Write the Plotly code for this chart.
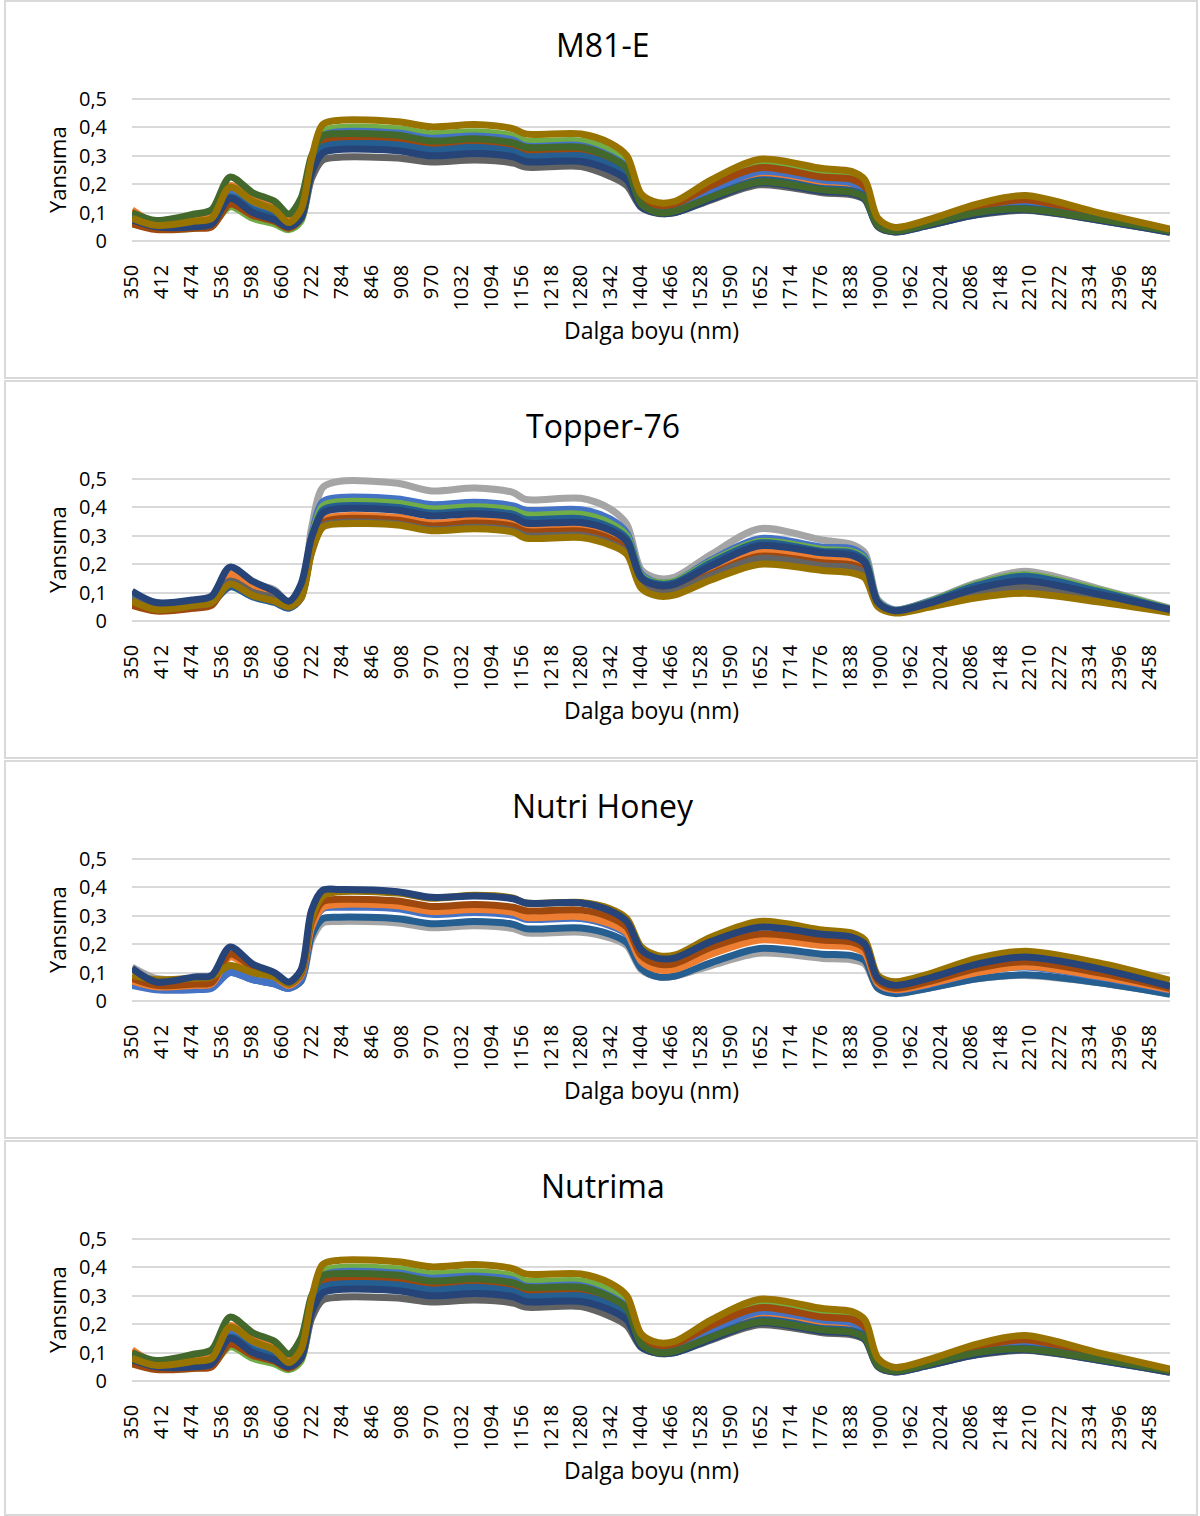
import plotly.graph_objects as go

# ---------------- data ----------------
wavelengths = [350, 400, 480, 515, 553, 600, 645, 675, 700, 722, 745, 780, 900, 970, 1060,
               1140, 1165, 1280, 1340, 1375, 1405, 1440, 1475, 1550, 1650, 1780, 1840, 1868,
               1895, 1930, 2000, 2100, 2200, 2350, 2500]
x_ticks = list(range(350, 2459, 62))
y_ticks = [0, 0.1, 0.2, 0.3, 0.4, 0.5]
y_ticktext = ["0", "0,1", "0,2", "0,3", "0,4", "0,5"]
titles = ["M81-E", "Topper-76", "Nutri Honey", "Nutrima"]

# M81-E
m81_white = [0.08,0.05,0.05,0.06,0.14,0.10,0.08,0.05,0.085,0.24,0.32,0.332,0.328,0.31,0.318,0.305,0.288,0.29,0.258,0.22,0.12,0.098,0.1,0.15,0.21,0.18,0.173,0.152,0.054,0.033,0.056,0.095,0.112,0.076,0.032]
m81_dgray = [0.07,0.045,0.05,0.055,0.14,0.095,0.07,0.045,0.075,0.22,0.285,0.295,0.292,0.278,0.285,0.274,0.26,0.262,0.228,0.195,0.118,0.097,0.1,0.145,0.198,0.17,0.163,0.145,0.05,0.032,0.055,0.092,0.108,0.074,0.031]
m81_lgreen = [0.07,0.045,0.045,0.055,0.12,0.08,0.06,0.04,0.07,0.26,0.385,0.40,0.395,0.378,0.385,0.37,0.352,0.352,0.32,0.275,0.14,0.11,0.115,0.19,0.27,0.235,0.225,0.195,0.065,0.04,0.065,0.11,0.125,0.085,0.035]
m81_orange = [0.11,0.065,0.09,0.095,0.195,0.15,0.125,0.075,0.10,0.27,0.34,0.352,0.348,0.332,0.34,0.326,0.31,0.31,0.28,0.24,0.125,0.10,0.105,0.16,0.225,0.195,0.188,0.165,0.058,0.036,0.06,0.1,0.118,0.08,0.034]
m81_blue = [0.08,0.05,0.055,0.065,0.17,0.12,0.09,0.055,0.09,0.27,0.37,0.385,0.38,0.362,0.37,0.355,0.335,0.336,0.30,0.26,0.135,0.105,0.11,0.175,0.245,0.215,0.205,0.18,0.06,0.037,0.062,0.105,0.125,0.082,0.034]
m81_brown = [0.06,0.04,0.045,0.05,0.13,0.09,0.07,0.045,0.08,0.26,0.35,0.362,0.358,0.342,0.35,0.336,0.32,0.322,0.29,0.255,0.15,0.125,0.13,0.195,0.258,0.225,0.218,0.19,0.07,0.042,0.07,0.12,0.145,0.09,0.038]
m81_steel = [0.085,0.055,0.055,0.065,0.155,0.11,0.085,0.055,0.09,0.25,0.33,0.342,0.338,0.32,0.33,0.315,0.298,0.3,0.268,0.23,0.125,0.10,0.105,0.155,0.215,0.185,0.178,0.158,0.056,0.034,0.058,0.098,0.115,0.078,0.033]
m81_dblue = [0.075,0.05,0.05,0.06,0.15,0.10,0.075,0.05,0.08,0.24,0.31,0.322,0.318,0.30,0.308,0.296,0.28,0.28,0.25,0.215,0.12,0.098,0.1,0.148,0.205,0.175,0.168,0.148,0.052,0.032,0.055,0.093,0.11,0.074,0.031]
m81_dgreen = [0.1,0.072,0.095,0.11,0.225,0.17,0.14,0.095,0.15,0.30,0.37,0.378,0.372,0.352,0.36,0.345,0.33,0.33,0.295,0.255,0.13,0.10,0.105,0.155,0.208,0.18,0.172,0.152,0.055,0.035,0.06,0.10,0.113,0.078,0.035]
m81_gold = [0.08,0.055,0.07,0.08,0.19,0.14,0.11,0.065,0.11,0.29,0.41,0.425,0.42,0.402,0.41,0.395,0.377,0.377,0.345,0.30,0.165,0.135,0.14,0.215,0.288,0.255,0.245,0.215,0.08,0.048,0.075,0.13,0.16,0.10,0.042]

# Topper-76
top_white = [0.07,0.045,0.05,0.06,0.13,0.095,0.075,0.05,0.085,0.26,0.36,0.372,0.367,0.347,0.356,0.344,0.33,0.332,0.3,0.26,0.14,0.118,0.122,0.18,0.24,0.215,0.208,0.185,0.06,0.034,0.06,0.11,0.135,0.09,0.037]
top_lgray = [0.09,0.06,0.065,0.075,0.15,0.13,0.11,0.065,0.10,0.33,0.47,0.492,0.485,0.458,0.468,0.452,0.428,0.432,0.395,0.34,0.18,0.15,0.155,0.235,0.325,0.285,0.27,0.24,0.075,0.04,0.07,0.135,0.175,0.115,0.045]
top_blue = [0.085,0.055,0.06,0.07,0.13,0.095,0.075,0.05,0.085,0.30,0.42,0.435,0.43,0.41,0.418,0.405,0.39,0.392,0.36,0.31,0.165,0.135,0.14,0.215,0.29,0.26,0.255,0.225,0.07,0.038,0.068,0.13,0.162,0.108,0.042]
top_lgreen = [0.08,0.055,0.06,0.07,0.15,0.11,0.085,0.055,0.09,0.29,0.405,0.42,0.415,0.395,0.402,0.39,0.374,0.376,0.345,0.3,0.16,0.135,0.14,0.21,0.28,0.252,0.245,0.218,0.068,0.037,0.067,0.13,0.163,0.11,0.042]
top_steel = [0.08,0.05,0.055,0.065,0.12,0.085,0.065,0.045,0.08,0.28,0.39,0.405,0.4,0.38,0.388,0.375,0.358,0.36,0.33,0.29,0.155,0.13,0.135,0.205,0.275,0.245,0.24,0.212,0.066,0.036,0.065,0.125,0.158,0.105,0.04]
top_orange = [0.075,0.045,0.055,0.065,0.165,0.12,0.095,0.06,0.095,0.26,0.355,0.37,0.365,0.345,0.355,0.343,0.325,0.327,0.3,0.26,0.14,0.115,0.12,0.18,0.245,0.22,0.212,0.19,0.06,0.034,0.058,0.105,0.13,0.088,0.036]
top_brown = [0.055,0.035,0.045,0.055,0.14,0.1,0.08,0.05,0.085,0.25,0.345,0.36,0.355,0.335,0.345,0.333,0.315,0.317,0.29,0.25,0.13,0.105,0.11,0.165,0.228,0.205,0.198,0.178,0.058,0.033,0.056,0.1,0.125,0.085,0.035]
top_dgray = [0.075,0.045,0.055,0.065,0.14,0.1,0.08,0.05,0.085,0.245,0.335,0.347,0.342,0.322,0.33,0.318,0.3,0.302,0.275,0.24,0.125,0.1,0.105,0.16,0.22,0.195,0.188,0.168,0.055,0.032,0.055,0.097,0.118,0.08,0.034]
top_gold = [0.07,0.04,0.055,0.065,0.13,0.09,0.07,0.05,0.08,0.24,0.33,0.342,0.338,0.318,0.325,0.313,0.292,0.294,0.268,0.235,0.115,0.088,0.092,0.145,0.2,0.178,0.17,0.152,0.05,0.028,0.048,0.082,0.098,0.068,0.03]
top_dblue = [0.105,0.065,0.075,0.088,0.19,0.14,0.105,0.07,0.13,0.295,0.38,0.395,0.39,0.37,0.378,0.365,0.345,0.347,0.32,0.28,0.15,0.125,0.13,0.195,0.265,0.24,0.232,0.205,0.065,0.036,0.062,0.115,0.142,0.095,0.04]

# Nutri Honey
nh_white = [0.06,0.045,0.045,0.05,0.11,0.08,0.065,0.045,0.075,0.245,0.31,0.315,0.31,0.292,0.3,0.29,0.275,0.277,0.252,0.222,0.13,0.1,0.102,0.155,0.2,0.18,0.175,0.155,0.055,0.035,0.055,0.095,0.112,0.08,0.035]
nh_lgray = [0.12,0.08,0.075,0.075,0.11,0.08,0.065,0.05,0.07,0.215,0.275,0.28,0.275,0.258,0.265,0.255,0.24,0.242,0.222,0.195,0.11,0.085,0.088,0.125,0.168,0.15,0.145,0.13,0.045,0.028,0.045,0.078,0.09,0.065,0.025]
nh_steel = [0.065,0.045,0.045,0.05,0.10,0.075,0.06,0.045,0.07,0.23,0.29,0.295,0.29,0.272,0.28,0.27,0.255,0.257,0.235,0.205,0.115,0.085,0.088,0.135,0.185,0.165,0.16,0.142,0.045,0.026,0.045,0.078,0.092,0.065,0.024]
nh_blue = [0.055,0.04,0.04,0.045,0.10,0.075,0.06,0.045,0.075,0.26,0.325,0.33,0.325,0.305,0.312,0.302,0.288,0.29,0.265,0.235,0.14,0.112,0.115,0.172,0.225,0.2,0.195,0.172,0.06,0.038,0.058,0.1,0.12,0.085,0.038]
nh_orange = [0.07,0.05,0.055,0.06,0.155,0.11,0.085,0.055,0.09,0.26,0.33,0.34,0.335,0.315,0.322,0.312,0.295,0.297,0.272,0.24,0.14,0.11,0.112,0.165,0.215,0.195,0.19,0.168,0.062,0.04,0.06,0.1,0.122,0.088,0.04]
nh_brown = [0.08,0.055,0.06,0.065,0.165,0.12,0.09,0.06,0.095,0.28,0.35,0.358,0.352,0.333,0.34,0.33,0.318,0.32,0.295,0.26,0.16,0.13,0.132,0.19,0.236,0.215,0.208,0.185,0.07,0.045,0.068,0.115,0.138,0.1,0.045]
nh_gold = [0.09,0.075,0.08,0.085,0.125,0.1,0.085,0.06,0.1,0.29,0.37,0.385,0.38,0.362,0.372,0.362,0.345,0.347,0.325,0.29,0.19,0.16,0.162,0.225,0.28,0.25,0.24,0.215,0.09,0.068,0.095,0.15,0.175,0.135,0.073]
nh_dblue = [0.115,0.067,0.085,0.09,0.19,0.13,0.10,0.067,0.11,0.32,0.39,0.393,0.385,0.365,0.37,0.36,0.345,0.345,0.318,0.28,0.18,0.15,0.152,0.21,0.26,0.235,0.225,0.2,0.08,0.055,0.08,0.13,0.155,0.115,0.052]

# Nutrima
nut_white = [0.08,0.05,0.05,0.06,0.14,0.10,0.08,0.05,0.085,0.24,0.32,0.332,0.328,0.31,0.318,0.305,0.288,0.29,0.258,0.22,0.12,0.098,0.1,0.15,0.21,0.18,0.173,0.152,0.054,0.033,0.056,0.095,0.112,0.076,0.032]
nut_dgray = [0.07,0.045,0.05,0.055,0.14,0.095,0.07,0.045,0.075,0.22,0.285,0.295,0.292,0.278,0.285,0.274,0.26,0.262,0.228,0.195,0.118,0.097,0.1,0.145,0.198,0.17,0.163,0.145,0.05,0.032,0.055,0.092,0.108,0.074,0.031]
nut_lgreen = [0.07,0.045,0.045,0.055,0.12,0.08,0.06,0.04,0.07,0.26,0.385,0.40,0.395,0.378,0.385,0.37,0.352,0.352,0.32,0.275,0.14,0.11,0.115,0.19,0.27,0.235,0.225,0.195,0.065,0.04,0.065,0.11,0.125,0.085,0.035]
nut_orange = [0.11,0.065,0.09,0.095,0.195,0.15,0.125,0.075,0.10,0.27,0.34,0.352,0.348,0.332,0.34,0.326,0.31,0.31,0.28,0.24,0.125,0.10,0.105,0.16,0.225,0.195,0.188,0.165,0.058,0.036,0.06,0.1,0.118,0.08,0.034]
nut_blue = [0.08,0.05,0.055,0.065,0.17,0.12,0.09,0.055,0.09,0.27,0.37,0.385,0.38,0.362,0.37,0.355,0.335,0.336,0.30,0.26,0.135,0.105,0.11,0.175,0.245,0.215,0.205,0.18,0.06,0.037,0.062,0.105,0.125,0.082,0.034]
nut_brown = [0.06,0.04,0.045,0.05,0.13,0.09,0.07,0.045,0.08,0.26,0.35,0.362,0.358,0.342,0.35,0.336,0.32,0.322,0.29,0.255,0.15,0.125,0.13,0.195,0.258,0.225,0.218,0.19,0.07,0.042,0.07,0.12,0.145,0.09,0.038]
nut_steel = [0.085,0.055,0.055,0.065,0.155,0.11,0.085,0.055,0.09,0.25,0.33,0.342,0.338,0.32,0.33,0.315,0.298,0.3,0.268,0.23,0.125,0.10,0.105,0.155,0.215,0.185,0.178,0.158,0.056,0.034,0.058,0.098,0.115,0.078,0.033]
nut_dblue = [0.075,0.05,0.05,0.06,0.15,0.10,0.075,0.05,0.08,0.24,0.31,0.322,0.318,0.30,0.308,0.296,0.28,0.28,0.25,0.215,0.12,0.098,0.1,0.148,0.205,0.175,0.168,0.148,0.052,0.032,0.055,0.093,0.11,0.074,0.031]
nut_dgreen = [0.1,0.072,0.095,0.11,0.225,0.17,0.14,0.095,0.15,0.30,0.37,0.378,0.372,0.352,0.36,0.345,0.33,0.33,0.295,0.255,0.13,0.10,0.105,0.155,0.208,0.18,0.172,0.152,0.055,0.035,0.06,0.10,0.113,0.078,0.035]
nut_gold = [0.08,0.055,0.07,0.08,0.19,0.14,0.11,0.065,0.11,0.29,0.41,0.425,0.42,0.402,0.41,0.395,0.377,0.377,0.345,0.30,0.165,0.135,0.14,0.215,0.288,0.255,0.245,0.215,0.08,0.048,0.075,0.13,0.16,0.10,0.042]

# ---------------- styling ----------------
C = {"white": "#FFFFFF", "dgray": "#636363", "lgray": "#A5A5A5", "lgreen": "#70AD47",
     "orange": "#ED7D31", "blue": "#4472C4", "brown": "#9E480E", "steel": "#255E91",
     "dblue": "#264478", "dgreen": "#43682B", "gold": "#997300"}

panels = [
    [(m81_white, "white"), (m81_dgray, "dgray"), (m81_lgreen, "lgreen"), (m81_orange, "orange"),
     (m81_blue, "blue"), (m81_brown, "brown"), (m81_steel, "steel"), (m81_dblue, "dblue"),
     (m81_dgreen, "dgreen"), (m81_gold, "gold")],
    [(top_white, "white"), (top_lgray, "lgray"), (top_blue, "blue"), (top_lgreen, "lgreen"),
     (top_steel, "steel"), (top_orange, "orange"), (top_brown, "brown"), (top_dgray, "dgray"),
     (top_gold, "gold"), (top_dblue, "dblue")],
    [(nh_white, "white"), (nh_lgray, "lgray"), (nh_steel, "steel"), (nh_blue, "blue"),
     (nh_orange, "orange"), (nh_brown, "brown"), (nh_gold, "gold"), (nh_dblue, "dblue")],
    [(nut_white, "white"), (nut_dgray, "dgray"), (nut_lgreen, "lgreen"), (nut_orange, "orange"),
     (nut_blue, "blue"), (nut_brown, "brown"), (nut_steel, "steel"), (nut_dblue, "dblue"),
     (nut_dgreen, "dgreen"), (nut_gold, "gold")],
]

W, H = 1200, 1516
FONT = "Open Sans"
PX_PER_UNIT = 284.0
Y0 = 241.0          # pixel row of y=0 in the first panel
STEP = 380.0        # vertical distance between panels
YMIN, YMAX = -0.01, 0.53


def py(p):
    return 1 - p / H


def px(p):
    return p / W


fig = go.Figure()
shapes, annotations = [], []
layout_axes = {}

frames = [(1, 378), (381, 758), (761, 1138), (1141, 1515)]

for k, (series, title) in enumerate(zip(panels, titles)):
    idx = "" if k == 0 else str(k + 1)
    zero = Y0 + STEP * k
    bottom = zero - YMIN * PX_PER_UNIT
    top = zero - YMAX * PX_PER_UNIT
    for vals, cname in series:
        fig.add_trace(go.Scatter(
            x=wavelengths, y=vals, mode="lines",
            line=dict(color=C[cname], width=2 if cname == "white" else 7,
                      shape="spline", smoothing=0.85),
            xaxis="x" + idx, yaxis="y" + idx, showlegend=False, hoverinfo="skip"))
    layout_axes["xaxis" + idx] = dict(
        domain=[px(132), px(1170)], range=[350, 2500], anchor="y" + idx,
        tickmode="array", tickvals=x_ticks, ticktext=[str(t) for t in x_ticks],
        tickangle=-90, showgrid=False, zeroline=False, showline=False, automargin=False,
        ticks="outside", ticklen=12, tickcolor="rgba(0,0,0,0)",
        tickfont=dict(family=FONT, size=20, color="#000000"))
    layout_axes["yaxis" + idx] = dict(
        domain=[py(bottom), py(top)], range=[YMIN, YMAX], anchor="x" + idx,
        tickmode="array", tickvals=y_ticks, ticktext=y_ticktext, automargin=False,
        showgrid=True, gridcolor="#D9D9D9", gridwidth=1.5, zeroline=False, showline=False,
        ticks="outside", ticklen=20, tickcolor="rgba(0,0,0,0)",
        tickfont=dict(family=FONT, size=20, color="#000000"))
    f0, f1 = frames[k]
    shapes.append(dict(type="rect", xref="paper", yref="paper",
                       x0=px(5), x1=px(1197), y0=py(f1), y1=py(f0),
                       line=dict(color="#D9D9D9", width=2), fillcolor="rgba(0,0,0,0)"))
    annotations.append(dict(text=title, x=px(603), y=py(45 + STEP * k), xref="paper", yref="paper",
                            showarrow=False, xanchor="center", yanchor="middle",
                            font=dict(family=FONT, size=32, color="#000000")))
    annotations.append(dict(text="Yansıma", x=px(57), y=py(170 + STEP * k), xref="paper", yref="paper",
                            showarrow=False, xanchor="center", yanchor="middle", textangle=-90,
                            font=dict(family=FONT, size=22, color="#000000")))
    annotations.append(dict(text="Dalga boyu (nm)", x=px(651), y=py(330 + STEP * k), xref="paper",
                            yref="paper", showarrow=False, xanchor="center", yanchor="middle",
                            font=dict(family=FONT, size=23, color="#000000")))

fig.update_layout(
    width=W, height=H, margin=dict(l=0, r=0, t=0, b=0, pad=0),
    paper_bgcolor="#FFFFFF", plot_bgcolor="#FFFFFF",
    shapes=shapes, annotations=annotations, showlegend=False,
    **layout_axes)

fig.write_html("out.html", config={"displayModeBar": False},
               post_script="document.body.style.margin='0';document.body.style.padding='0';")
